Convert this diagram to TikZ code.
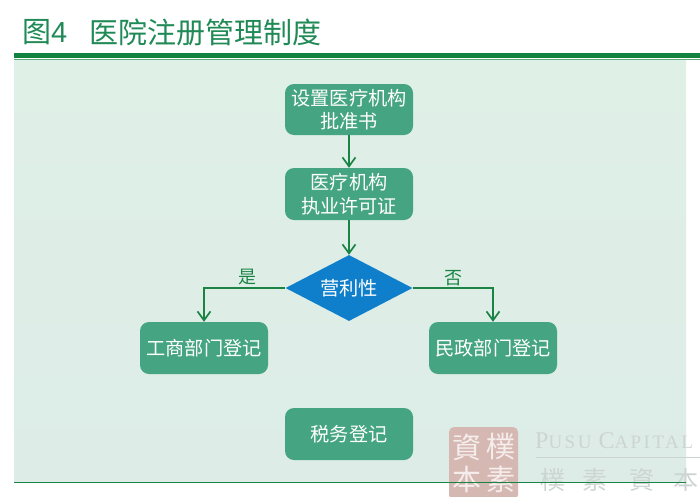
\documentclass[tikz,border=0pt]{standalone}
\usepackage{fontspec}
\setmainfont{Liberation Sans}
\newfontfamily\cjk{Noto Sans CJK SC}
\newfontfamily\tcjk{Noto Sans CJK TC}
\newfontfamily\serifl[LetterSpace=13]{Liberation Serif}
\usetikzlibrary{shapes.geometric,arrows.meta}
\definecolor{titlegreen}{HTML}{1F8A55}
\definecolor{bargreen}{HTML}{12843F}
\definecolor{panelbg}{HTML}{DFF0E7}
\definecolor{panelbgb}{HTML}{DDECE7}
\definecolor{boxgreen}{HTML}{45A582}
\definecolor{diamondblue}{HTML}{0F7FCB}
\definecolor{linkgreen}{HTML}{1A8445}
\definecolor{markred}{HTML}{D6B8B3}
\definecolor{markgrey}{HTML}{CDD5D3}
\tikzset{
  flowbox/.style={draw=none,fill=boxgreen,rounded corners=9pt,minimum width=128pt,text=white,align=center,font=\cjk\fontsize{19.2}{23.5}\selectfont,inner sep=0pt},
  decide/.style={diamond,aspect=1.94,fill=diamondblue,text=white,inner sep=0pt,minimum width=127pt,minimum height=66pt,font=\cjk\fontsize{19.2}{23}\selectfont},
  link/.style={draw=linkgreen,line width=1.5pt,-{Straight Barb[length=9pt,width=13pt,line width=1.7pt]}},
  branchlabel/.style={text=linkgreen,font=\cjk\fontsize{18}{20}\selectfont,inner sep=0pt},
  titletext/.style={text=titlegreen,anchor=west,inner sep=0pt,font=\cjk\fontsize{29}{32}\selectfont},
  markchar/.style={text=white,opacity=.75,inner sep=0pt,font=\tcjk\fontsize{29}{29}\selectfont},
  greychar/.style={text=markgrey,inner sep=0pt,font=\tcjk\fontsize{25}{25}\selectfont}
}
\begin{document}
\begin{tikzpicture}[x=1pt,y=-1pt]
\useasboundingbox (0,0) rectangle (700,496);
\fill[white] (0,0) rectangle (700,496);
\fill[top color=panelbg,bottom color=panelbgb] (14,59) rectangle (686,482);
\fill[bargreen] (14,52.5) rectangle (700,57.5);
\fill[bargreen!70] (14,59) rectangle (700,60);
\node[titletext] (fig) at (22,32) {图\fontspec{Liberation Sans}4};
\node[titletext] (title) at (89,32) {医院注册管理制度};
% watermark
\begin{scope}
\clip (0,0) rectangle (700,496);
\fill[markred,rounded corners=5pt] (449,427) rectangle (518,500);
\node[markchar] (w1) at (467,447) {資};
\node[markchar] (w2) at (501,447) {樸};
\node[markchar] (w3) at (467,479) {本};
\node[markchar] (w4) at (501,479) {素};
\node[anchor=west,inner sep=0pt,text=markgrey] (pusu) at (535,441) {\serifl\fontsize{24}{24}\selectfont P\fontsize{19}{24}\selectfont USU\hspace{7pt}\fontsize{24}{24}\selectfont C\fontsize{19}{24}\selectfont APITAL};
\fill[markgrey] (536,456.5) rectangle (700,457.3);
\node[greychar] (g1) at (553,480) {樸};
\node[greychar] (g2) at (595,480) {素};
\node[greychar] (g3) at (642,480) {資};
\node[greychar] (g4) at (686,480) {本};
\end{scope}
\fill[linkgreen] (14,481.6) rectangle (686,482.6);
% flow
\node[flowbox,minimum height=51pt] (a) at (349,109.5) {设置医疗机构\\批准书};
\node[flowbox,minimum height=52pt] (b) at (349,194) {医疗机构\\执业许可证};
\node[decide] (c) at (349,288) {营利性};
\node[flowbox,minimum height=52pt] (d) at (204,348) {工商部门登记};
\node[flowbox,minimum height=52pt] (e) at (493,348) {民政部门登记};
\node[flowbox,minimum height=52pt] (f) at (349,434) {税务登记};
\draw[link] (a) -- (b);
\draw[link] (b) -- (c);
\draw[link] (c.west) -| (d.north);
\draw[link] (c.east) -| (e.north);
\node[branchlabel] (yes) at (247,277.5) {是};
\node[branchlabel] (no) at (453.5,278) {否};
\end{tikzpicture}
\end{document}
